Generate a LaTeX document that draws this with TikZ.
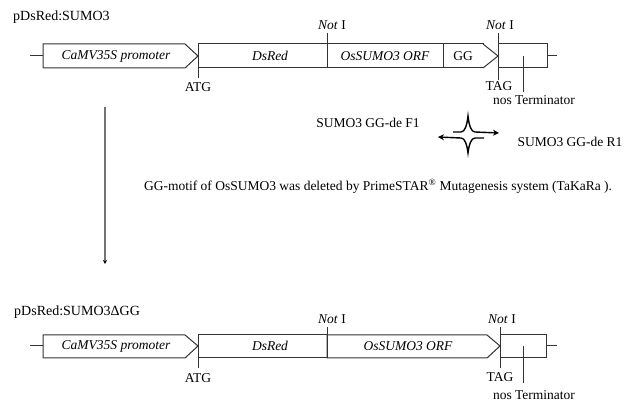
\documentclass[tikz,border=0pt]{standalone}
\usepackage{fontspec}
\setmainfont{Liberation Serif}
\usetikzlibrary{arrows.meta}
\begin{document}
\begin{tikzpicture}[x=1pt,y=-1pt,
  part/.style={draw=black!80,line width=1pt,fill=white},
  thin/.style={draw=black!80,line width=1pt},
  lbl/.style={inner sep=0pt,font=\fontsize{13.5}{14}\selectfont},
  ilbl/.style={inner sep=0pt,font=\fontsize{13.5}{14}\selectfont\itshape},
  ttl/.style={inner sep=0pt,anchor=west,font=\fontsize{14}{15}\selectfont},
  primer/.style={draw=black,line width=1.4pt,-{Stealth[length=6pt,width=6pt]}}]
\useasboundingbox (0,0) rectangle (643,403);

% ---------- top construct ----------
\node[ttl] (t1) at (13,17) {pDsRed:SUMO3};
\coordinate (s1a) at (30,56); \coordinate (s1b) at (43,56);
\draw[thin] (s1a) -- (s1b);
\draw[part] (43,44) -- (185,44) -- (198,56) -- (185,68) -- (43,68) -- cycle;
\node[ilbl] (p1) at (116,56) {CaMV35S promoter};
\draw[part] (198,44) rectangle (327,68);
\node[ilbl] (d1) at (270,56) {DsRed};
\draw[part] (327,44) rectangle (443,68);
\node[ilbl] (o1) at (385,56) {OsSUMO3 ORF};
\draw[part] (443,44) rectangle (483,68);
\node[lbl] (g1) at (463,56) {GG};
\draw[part] (483,44) -- (498,56) -- (483,68);
\draw[part] (498,44) rectangle (547,68);
\draw[thin] (547,56) -- (557,56);
% ATG
\draw[thin] (198,44) -- (198,78);
\node[lbl] (atg1) at (198,87) {ATG};
% Not I
\draw[thin] (327,33) -- (327,68);
\node[lbl] (n1) at (332,25) {\textit{Not} I};
\draw[thin] (498,33) -- (498,80);
\node[lbl] (n2) at (500,25) {\textit{Not} I};
\node[lbl] (tag1) at (499,86) {TAG};
\draw[thin] (523,56) -- (523,92);
\node[lbl] (nos1) at (534,100) {nos Terminator};

% ---------- middle ----------
\coordinate (va) at (105,107); \coordinate (vb) at (105,264);
\draw[draw=black!55,line width=1.2pt,-{Stealth[length=4pt,width=4pt,color=black]}] (va) -- (vb);
\node[lbl] (f1) at (368,123) {SUMO3 GG-de F1};
\node[lbl] (r1) at (570,142) {SUMO3 GG-de R1};
\coordinate (pa1) at (453,132); \coordinate (pa2) at (499,133);
\coordinate (pb1) at (484,138); \coordinate (pb2) at (438,137);
\draw[primer] (pa1) -- (461,132) .. controls (465,132) and (467,125) .. (468,116)
  .. controls (469,125) and (471,132) .. (475,132) -- (pa2);
\draw[primer] (pb1) -- (475,138) .. controls (471,138) and (469,145) .. (468,153)
  .. controls (467,145) and (465,138) .. (461,138) -- (pb2);
\node[lbl] (sent) at (378,186) {GG-motif of OsSUMO3 was deleted by PrimeSTAR\textsuperscript{®} Mutagenesis system (TaKaRa ).};

% ---------- bottom construct ----------
\node[ttl] (t2) at (14,312) {pDsRed:SUMO3ΔGG};
\draw[thin] (30,346) -- (43,346);
\draw[part] (43,335) -- (185,335) -- (198,346) -- (185,358) -- (43,358) -- cycle;
\node[ilbl] (p2) at (116,346) {CaMV35S promoter};
\draw[part] (198,335) rectangle (327,358);
\node[ilbl] (d2) at (270,346) {DsRed};
\draw[part] (327,335) -- (487,335) -- (500,346) -- (487,358) -- (327,358) -- cycle;
\node[ilbl] (o2) at (408,346) {OsSUMO3 ORF};
\draw[part] (500,335) rectangle (546,358);
\draw[thin] (546,346) -- (557,346);
\draw[thin] (198,335) -- (198,368);
\node[lbl] (atg2) at (198,378) {ATG};
\draw[thin] (327,327) -- (327,358);
\node[lbl] (n3) at (332,319) {\textit{Not} I};
\draw[thin] (500,327) -- (500,368);
\node[lbl] (n4) at (502,319) {\textit{Not} I};
\node[lbl] (tag2) at (500,377) {TAG};
\draw[thin] (523,346) -- (523,383);
\node[lbl] (nos2) at (534,395) {nos Terminator};
\end{tikzpicture}
\end{document}
